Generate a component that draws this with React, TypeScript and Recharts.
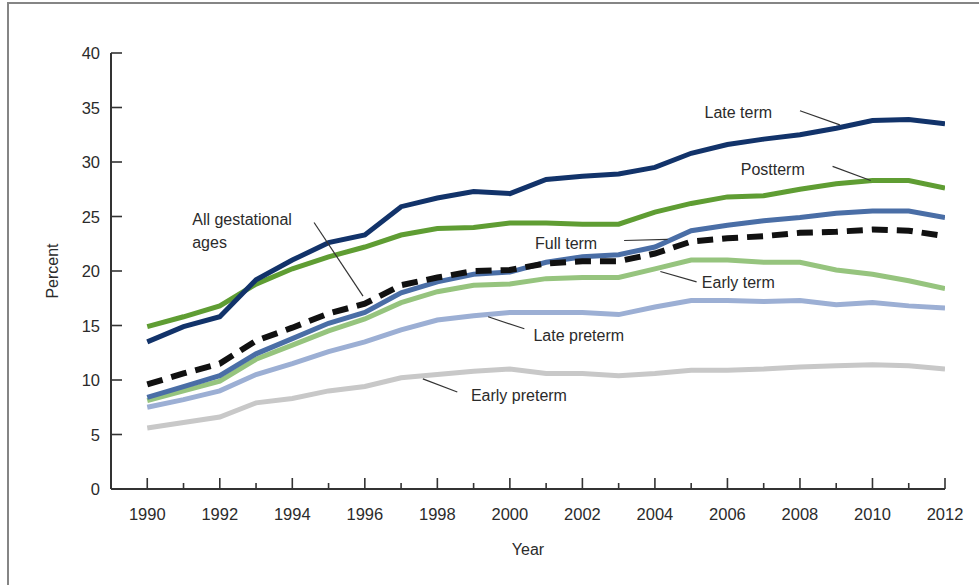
import React from 'react';
import {
  LineChart,
  Line,
  XAxis,
  YAxis,
  ReferenceLine,
  ReferenceDot,
  Label,
} from 'recharts';

// years 1990-2012
const years = [
  1990, 1991, 1992, 1993, 1994, 1995, 1996, 1997, 1998, 1999, 2000, 2001,
  2002, 2003, 2004, 2005, 2006, 2007, 2008, 2009, 2010, 2011, 2012,
];

const lateTerm = [
  13.5, 14.9, 15.8, 19.2, 21.0, 22.6, 23.3, 25.9, 26.7, 27.3, 27.1, 28.4,
  28.7, 28.9, 29.5, 30.8, 31.6, 32.1, 32.5, 33.1, 33.8, 33.9, 33.5,
];
const postterm = [
  14.9, 15.8, 16.8, 18.8, 20.2, 21.3, 22.2, 23.3, 23.9, 24.0, 24.4, 24.4,
  24.3, 24.3, 25.4, 26.2, 26.8, 26.9, 27.5, 28.0, 28.3, 28.3, 27.6,
];
const fullTerm = [
  8.4, 9.4, 10.4, 12.4, 13.8, 15.2, 16.2, 18.0, 19.0, 19.7, 19.9, 20.8,
  21.3, 21.5, 22.2, 23.7, 24.2, 24.6, 24.9, 25.3, 25.5, 25.5, 24.9,
];
const allAges = [
  9.6, 10.6, 11.5, 13.6, 14.8, 16.1, 17.0, 18.7, 19.4, 20.0, 20.1, 20.7,
  20.9, 20.9, 21.6, 22.7, 23.0, 23.2, 23.5, 23.6, 23.8, 23.7, 23.2,
];
const earlyTerm = [
  8.1, 9.0, 9.9, 11.9, 13.2, 14.5, 15.6, 17.1, 18.1, 18.7, 18.8, 19.3,
  19.4, 19.4, 20.2, 21.0, 21.0, 20.8, 20.8, 20.1, 19.7, 19.1, 18.4,
];
const latePreterm = [
  7.5, 8.2, 9.0, 10.5, 11.5, 12.6, 13.5, 14.6, 15.5, 15.9, 16.2, 16.2,
  16.2, 16.0, 16.7, 17.3, 17.3, 17.2, 17.3, 16.9, 17.1, 16.8, 16.6,
];
const earlyPreterm = [
  5.6, 6.1, 6.6, 7.9, 8.3, 9.0, 9.4, 10.2, 10.5, 10.8, 11.0, 10.6,
  10.6, 10.4, 10.6, 10.9, 10.9, 11.0, 11.2, 11.3, 11.4, 11.3, 11.0,
];

const yTicks = [0, 5, 10, 15, 20, 25, 30, 35, 40];

const data = years.map((year, i) => ({
  year,
  lateTerm: lateTerm[i],
  postterm: postterm[i],
  fullTerm: fullTerm[i],
  allAges: allAges[i],
  earlyTerm: earlyTerm[i],
  latePreterm: latePreterm[i],
  earlyPreterm: earlyPreterm[i],
}));

// annotation texts, placed in data units
const notes = [
  { text: 'Late term', x: 2006.3, y: 34.6, anchor: 'middle' },
  { text: 'Postterm', x: 2007.25, y: 29.4, anchor: 'middle' },
  { text: 'Full term', x: 2001.55, y: 22.6, anchor: 'middle' },
  { text: 'Early term', x: 2006.3, y: 18.95, anchor: 'middle' },
  { text: 'Late preterm', x: 2001.9, y: 14.15, anchor: 'middle' },
  { text: 'Early preterm', x: 2000.25, y: 8.65, anchor: 'middle' },
  { text: 'All gestational', x: 1991.24, y: 24.75, anchor: 'start' },
  { text: 'ages', x: 1991.24, y: 22.7, anchor: 'start' },
];

// leader lines
const leaders = [
  [2008.0, 34.7, 2009.1, 33.4],
  [2008.9, 29.6, 2009.95, 28.3],
  [2003.15, 22.8, 2004.35, 22.9],
  [2005.15, 19.0, 2004.15, 19.95],
  [1999.4, 15.8, 2000.4, 14.7],
  [1997.6, 10.1, 1998.55, 8.9],
  [1994.6, 24.45, 1995.95, 17.7],
];

const FONT = 'Arial, "Liberation Sans", sans-serif';
const TEXT = '#2b2b2b';

const XTick = (props: any) => {
  const { x, y, payload } = props;
  const even = payload.value % 2 === 0;
  return (
    <g>
      <line x1={x} y1={y} x2={x} y2={y - (even ? 11 : 6)} stroke="#333" strokeWidth={1.6} />
      {even && (
        <text x={x} y={y + 31} textAnchor="middle" fontSize={16.5} fill={TEXT} fontFamily={FONT}>
          {payload.value}
        </text>
      )}
    </g>
  );
};

const YTick = (props: any) => {
  const { x, y, payload } = props;
  return (
    <g>
      <line x1={x} y1={y} x2={x + 11} y2={y} stroke="#333" strokeWidth={1.6} />
      <text x={x - 11} y={y + 6} textAnchor="end" fontSize={16.5} fill={TEXT} fontFamily={FONT}>
        {payload.value}
      </text>
    </g>
  );
};

const App = () => {
  return (
    <div style={{ position: 'absolute', left: 0, top: 0, width: 979, height: 585, background: '#fff', overflow: 'hidden' }}>
      <div
        style={{
          position: 'absolute',
          left: 7,
          top: 2,
          width: 990,
          height: 600,
          borderTop: '2px solid #858585',
          borderLeft: '2px solid #858585',
        }}
      />
      <div style={{ position: 'absolute', left: 0, top: 0 }}>
        <LineChart
          width={979}
          height={585}
          data={data}
          margin={{ top: 53, right: 34, left: 0, bottom: 26 }}
          style={{ fontFamily: FONT }}
        >
          <XAxis
            dataKey="year"
            type="number"
            domain={[1989, 2012]}
            ticks={years}
            interval={0}
            allowDataOverflow
            height={70}
            tickSize={0}
            tickMargin={0}
            tickLine={false}
            axisLine={{ stroke: '#333', strokeWidth: 2 }}
            tick={<XTick />}
          >
            <Label value="Year" position="insideBottom" offset={4} fill={TEXT} fontSize={16} />
          </XAxis>
          <YAxis
            type="number"
            domain={[0, 40]}
            ticks={yTicks}
            width={111}
            tickSize={0}
            tickMargin={0}
            tickLine={false}
            axisLine={{ stroke: '#333', strokeWidth: 2 }}
            tick={<YTick />}
          >
            <Label value="Percent" angle={-90} position="center" dx={-3} fill={TEXT} fontSize={16} />
          </YAxis>

          <Line dataKey="earlyPreterm" stroke="#c8c8c8" strokeWidth={5} dot={false} isAnimationActive={false} />
          <Line dataKey="latePreterm" stroke="#9cafd4" strokeWidth={5} dot={false} isAnimationActive={false} />
          <Line dataKey="earlyTerm" stroke="#96c47e" strokeWidth={5} dot={false} isAnimationActive={false} />
          <Line dataKey="fullTerm" stroke="#4a6ea6" strokeWidth={5} dot={false} isAnimationActive={false} />
          <Line dataKey="allAges" stroke="#111" strokeWidth={6} strokeDasharray="16 9" dot={false} isAnimationActive={false} />
          <Line dataKey="postterm" stroke="#5f9d33" strokeWidth={5} dot={false} isAnimationActive={false} />
          <Line dataKey="lateTerm" stroke="#12336a" strokeWidth={5} dot={false} isAnimationActive={false} />

          {leaders.map((l, i) => (
            <ReferenceLine
              key={`lead-${i}`}
              segment={[{ x: l[0], y: l[1] }, { x: l[2], y: l[3] }]}
              stroke="#333"
              strokeWidth={1.2}
              ifOverflow="visible"
            />
          ))}
          {notes.map((n) => (
            <ReferenceDot
              key={n.text}
              x={n.x}
              y={n.y}
              r={0}
              ifOverflow="visible"
              shape={(p: any) => (
                <text
                  x={p.cx}
                  y={p.cy + 6}
                  textAnchor={n.anchor}
                  fontSize={16}
                  fill={TEXT}
                  fontFamily={FONT}
                >
                  {n.text}
                </text>
              )}
            />
          ))}
        </LineChart>
      </div>
    </div>
  );
};

export default App;
